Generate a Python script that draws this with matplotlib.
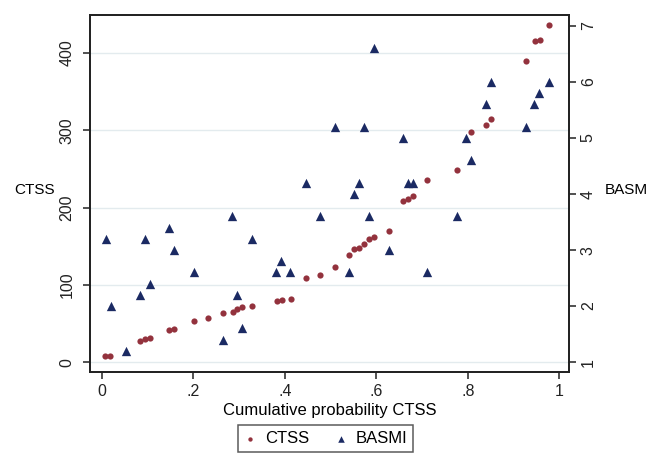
import matplotlib.pyplot as plt

# CTSS (sorted) against its cumulative probability
prob_ctss = [0.007, 0.018, 0.083, 0.094, 0.105, 0.147, 0.158, 0.201, 0.232, 0.265,
             0.287, 0.295, 0.306, 0.328, 0.383, 0.394, 0.414, 0.446, 0.477, 0.510,
             0.541, 0.551, 0.562, 0.573, 0.584, 0.595, 0.628, 0.659, 0.670, 0.681,
             0.711, 0.777, 0.807, 0.840, 0.851, 0.926, 0.947, 0.958, 0.978]
ctss = [8, 8, 27, 30, 31, 41, 43, 53, 57, 63,
        65, 69, 71, 72, 79, 80, 82, 109, 113, 123,
        138, 146, 148, 153, 159, 162, 170, 208, 211, 215,
        236, 248, 298, 307, 315, 390, 415, 417, 436]

# BASMI at the same cumulative probability
prob_basmi = [0.009, 0.020, 0.053, 0.083, 0.094, 0.105, 0.147, 0.158, 0.201, 0.265,
              0.284, 0.295, 0.306, 0.328, 0.381, 0.392, 0.411, 0.446, 0.477, 0.510,
              0.541, 0.551, 0.562, 0.573, 0.584, 0.595, 0.628, 0.659, 0.670, 0.681,
              0.711, 0.777, 0.796, 0.807, 0.840, 0.851, 0.926, 0.945, 0.956, 0.978]
basmi = [3.2, 2.0, 1.2, 2.2, 3.2, 2.4, 3.4, 3.0, 2.6, 1.4,
         3.6, 2.2, 1.6, 3.2, 2.6, 2.8, 2.6, 4.2, 3.6, 5.2,
         2.6, 4.0, 4.2, 5.2, 3.6, 6.6, 3.0, 5.0, 4.2, 4.2,
         2.6, 3.6, 5.0, 4.6, 5.6, 6.0, 5.2, 5.6, 5.8, 6.0]

x_ticks = [0, 0.2, 0.4, 0.6, 0.8, 1]
x_tick_labels = ['0', '.2', '.4', '.6', '.8', '1']
left_ticks = [0, 100, 200, 300, 400]
right_ticks = [1, 2, 3, 4, 5, 6, 7]

plt.rcParams['font.family'] = ['Liberation Sans', 'DejaVu Sans']

maroon = '#93323d'
navy = '#1b2a63'
grid_col = '#e3ebee'

fig = plt.figure(figsize=(6.47, 4.55), dpi=100)
ax = fig.add_axes([0.139, 0.182, 0.7405, 0.785])
ax2 = ax.twinx()

h1 = ax.scatter(prob_ctss, ctss, s=20, color=maroon, marker='o', linewidths=0, label='CTSS')
h2 = ax2.scatter(prob_basmi, basmi, s=45, color=navy, marker='^', linewidths=0, label='BASMI')

ax.set_xlim(-0.026, 1.021)
ax.set_ylim(-13, 449)
ax2.set_ylim(0.82, 7.196)

for a in (ax, ax2):
    for sp in a.spines.values():
        sp.set_linewidth(1.3)
        sp.set_color('#222222')

ax.set_xticks(x_ticks)
ax.set_xticklabels(x_tick_labels)
ax.set_yticks(left_ticks)
ax.yaxis.grid(True, color=grid_col, linewidth=1.0)
ax.set_axisbelow(True)
ax2.set_yticks(right_ticks)

ax.tick_params(axis='both', direction='out', length=5, width=1.1, labelsize=11.5, colors='#222222')
ax.tick_params(axis='y', labelrotation=90, pad=6)
ax2.tick_params(axis='y', direction='out', length=5, width=1.1, labelsize=11.5, colors='#222222',
                labelrotation=90)
for lab in ax.get_yticklabels() + ax2.get_yticklabels():
    lab.set_verticalalignment('center')

ax.set_xlabel('Cumulative probability CTSS', fontsize=12, labelpad=3)
fig.text(0.022, 0.582, 'CTSS', fontsize=11, ha='left', va='center')
fig.text(0.934, 0.582, 'BASMI', fontsize=11, ha='left', va='center')

leg = fig.legend([h1, h2], ['CTSS', 'BASMI'], loc='lower center', bbox_to_anchor=(0.503, -0.012),
                 ncol=2, fontsize=12, frameon=True, fancybox=False, edgecolor='#333333',
                 handlelength=0.8, handletextpad=0.5, columnspacing=1.5, borderpad=0.35,
                 markerscale=0.7)
leg.get_frame().set_linewidth(1.1)

fig.savefig('out.png', dpi=100)
